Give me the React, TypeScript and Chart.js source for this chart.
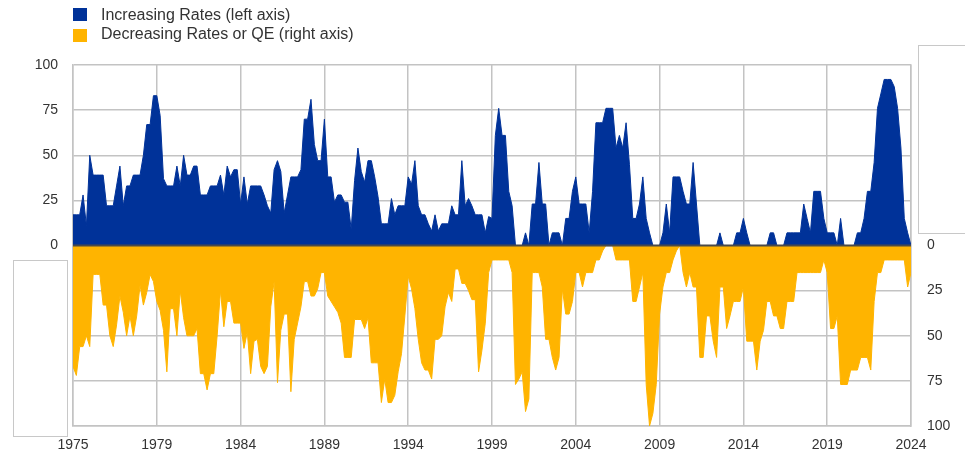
import React, { useEffect, useRef } from "react";
import { Chart, registerables } from "chart.js";

Chart.register(...registerables);

// Year labels shown at every 25th point of the x axis
const yearLabels = ["1975", "1979", "1984", "1989", "1994", "1999", "2004", "2009", "2014", "2019", "2024"];

// Share of central banks increasing rates (left axis), 251 points
const increasingRates = [
  17, 17, 17, 28, 11, 50, 39, 39, 39, 39,
  22, 22, 22, 33, 44, 22, 33, 33, 39, 39,
  39, 50, 67, 67, 83, 83, 72, 37, 33, 33,
  33, 44, 33, 50, 39, 39, 44, 44, 28, 28,
  28, 33, 33, 33, 39, 28, 44, 38, 42, 42,
  23, 38, 23, 33, 33, 33, 33, 28, 22, 18,
  42, 47, 41, 18, 28, 38, 38, 38, 42, 70,
  70, 81, 56, 47, 47, 70, 38, 38, 24, 28,
  28, 24, 24, 9, 36, 54, 41, 35, 47, 47,
  38, 27, 12, 12, 12, 26, 17, 22, 22, 22,
  38, 34, 47, 22, 17, 17, 12, 8, 17, 8,
  12, 12, 12, 22, 17, 17, 47, 22, 26, 22,
  17, 17, 17, 7, 16, 15, 61, 76, 61, 61,
  30, 22, 0, 0, 0, 7, 0, 23, 23, 46,
  23, 23, 0, 7, 7, 7, 0, 15, 15, 30,
  38, 23, 23, 23, 7, 30, 68, 68, 68, 76,
  76, 76, 54, 61, 54, 68, 45, 15, 15, 23,
  38, 15, 7, 0, 0, 0, 7, 23, 7, 38,
  38, 38, 30, 23, 23, 46, 23, 0, 0, 0,
  0, 0, 0, 7, 0, 0, 0, 0, 7, 7,
  15, 7, 0, 0, 0, 0, 0, 0, 7, 7,
  0, 0, 0, 7, 7, 7, 7, 7, 23, 15,
  7, 30, 30, 30, 15, 7, 7, 7, 0, 15,
  0, 0, 0, 0, 7, 7, 15, 30, 30, 46,
  76, 84, 92, 92, 92, 88, 76, 54, 15, 7,
  0,
];

// Share of central banks decreasing rates or doing QE (right axis, drawn downward), 251 points
const decreasingRates = [
  67, 72, 56, 56, 50, 56, 16, 16, 16, 33,
  33, 50, 56, 44, 28, 37, 50, 39, 50, 39,
  22, 33, 26, 16, 20, 31, 36, 47, 70, 35,
  35, 50, 25, 40, 50, 50, 50, 46, 71, 71,
  80, 71, 71, 50, 25, 45, 31, 31, 43, 43,
  43, 57, 48, 71, 53, 52, 67, 71, 67, 34,
  20, 76, 47, 38, 38, 81, 52, 43, 34, 20,
  20, 28, 28, 24, 15, 15, 28, 31, 34, 37,
  43, 62, 62, 62, 41, 41, 41, 46, 40, 65,
  65, 65, 87, 74, 87, 87, 83, 70, 60, 39,
  17, 24, 35, 52, 65, 69, 69, 74, 52, 52,
  50, 34, 26, 31, 13, 13, 21, 21, 25, 30,
  30, 70, 58, 43, 15, 8, 8, 8, 8, 8,
  8, 15, 77, 74, 70, 92, 85, 15, 15, 15,
  23, 52, 52, 62, 69, 62, 24, 38, 38, 31,
  15, 15, 23, 15, 15, 15, 8, 8, 3, 0,
  0, 0, 8, 8, 8, 8, 8, 31, 31, 23,
  15, 77, 100, 93, 77, 38, 23, 15, 15, 8,
  3, 0, 15, 23, 15, 23, 23, 62, 62, 39,
  39, 53, 62, 23, 23, 46, 39, 31, 31, 31,
  23, 53, 53, 53, 69, 53, 47, 31, 31, 39,
  39, 46, 46, 31, 31, 31, 15, 15, 15, 15,
  15, 15, 15, 15, 8, 15, 46, 46, 39, 77,
  77, 77, 69, 69, 69, 62, 62, 62, 69, 31,
  15, 15, 8, 8, 8, 8, 8, 8, 8, 23,
  15,
];

const BLUE = "#003299";
const ORANGE = "#FFB400";
const GRID = "#c3c3c3";
const TEXT = "#333333";
const FONT = '"Liberation Sans", Arial, sans-serif';

const zeroLinePlugin = {
  id: "zeroLine",
  afterDatasetsDraw(chart: any) {
    const { ctx, chartArea, scales } = chart;
    const y = scales.y.getPixelForValue(0);
    ctx.save();
    ctx.strokeStyle = "#4a4a4a";
    ctx.lineWidth = 2;
    ctx.beginPath();
    ctx.moveTo(chartArea.left, y);
    ctx.lineTo(chartArea.right, y);
    ctx.stroke();
    ctx.restore();
  },
};

export default function App() {
  const ref = useRef<HTMLCanvasElement>(null);

  useEffect(() => {
    if (!ref.current) return;
    const chart = new Chart(ref.current, {
      type: "line",
      data: {
        datasets: [
          {
            label: "Increasing Rates (left axis)",
            data: increasingRates.map((v, i) => ({ x: i, y: v })),
            borderColor: BLUE,
            backgroundColor: BLUE,
            borderWidth: 1,
            pointRadius: 0,
            tension: 0,
            fill: "origin",
          },
          {
            label: "Decreasing Rates or QE (right axis)",
            data: decreasingRates.map((v, i) => ({ x: i, y: -v })),
            borderColor: ORANGE,
            backgroundColor: ORANGE,
            borderWidth: 1,
            pointRadius: 0,
            tension: 0,
            fill: "origin",
          },
        ],
      },
      options: {
        responsive: false,
        animation: false,
        layout: { padding: { top: 65, left: 0, right: 0, bottom: 0 } },
        plugins: { legend: { display: false }, tooltip: { enabled: false } },
        scales: {
          x: {
            type: "linear",
            min: 0,
            max: 250,
            ticks: {
              stepSize: 25,
              autoSkip: false,
              maxRotation: 0,
              padding: 11,
              color: TEXT,
              font: { family: FONT, size: 14 },
              callback: (v: any) => {
                const k = Math.round(Number(v) / 25);
                return Number(v) % 25 === 0 ? yearLabels[k] ?? "" : "";
              },
            },
            grid: { color: GRID, lineWidth: 1.5, drawTicks: false },
            border: { display: true, color: GRID, width: 1.5 },
            afterFit: (s: any) => {
              s.height = 31;
            },
          },
          y: {
            position: "left",
            min: -100,
            max: 100,
            ticks: {
              stepSize: 25,
              padding: 15,
              color: TEXT,
              font: { family: FONT, size: 14 },
              callback: (v: any) => (Number(v) >= 0 ? String(v) : ""),
            },
            grid: { color: GRID, lineWidth: 1.5, drawTicks: false },
            border: { display: true, color: GRID, width: 1.5 },
            afterFit: (s: any) => {
              s.width = 73;
            },
          },
          y2: {
            position: "right",
            min: -100,
            max: 100,
            ticks: {
              stepSize: 25,
              padding: 16,
              color: TEXT,
              font: { family: FONT, size: 14 },
              callback: (v: any) => (Number(v) === 0 ? "0" : Number(v) < 0 ? String(-Number(v)) : ""),
            },
            grid: { drawOnChartArea: false, drawTicks: false },
            border: { display: true, color: GRID, width: 1.5 },
            afterFit: (s: any) => {
              s.width = 54;
            },
          },
        },
      },
      plugins: [zeroLinePlugin],
    });
    return () => chart.destroy();
  }, []);

  const legendText: React.CSSProperties = {
    position: "absolute",
    left: 101,
    fontFamily: FONT,
    fontSize: 16,
    lineHeight: "18px",
    color: TEXT,
    whiteSpace: "nowrap",
  };
  const box: React.CSSProperties = {
    position: "absolute",
    border: "1px solid #c8c8c8",
    boxSizing: "border-box",
    background: "transparent",
  };

  return (
    <div style={{ position: "fixed", left: 0, top: 0, width: 965, height: 457, background: "#fff", overflow: "hidden" }}>
      <canvas ref={ref} width={965} height={457} style={{ position: "absolute", left: 0, top: 0 }} />
      <div style={{ position: "absolute", left: 73, top: 8, width: 14, height: 13, background: BLUE }} />
      <div style={{ ...legendText, top: 6 }}>Increasing Rates (left axis)</div>
      <div style={{ position: "absolute", left: 73, top: 29, width: 14, height: 13, background: ORANGE }} />
      <div style={{ ...legendText, top: 25 }}>Decreasing Rates or QE (right axis)</div>
      <div style={{ ...box, left: 918, top: 45, width: 60, height: 189 }} />
      <div style={{ ...box, left: 13, top: 260, width: 55, height: 177 }} />
    </div>
  );
}
